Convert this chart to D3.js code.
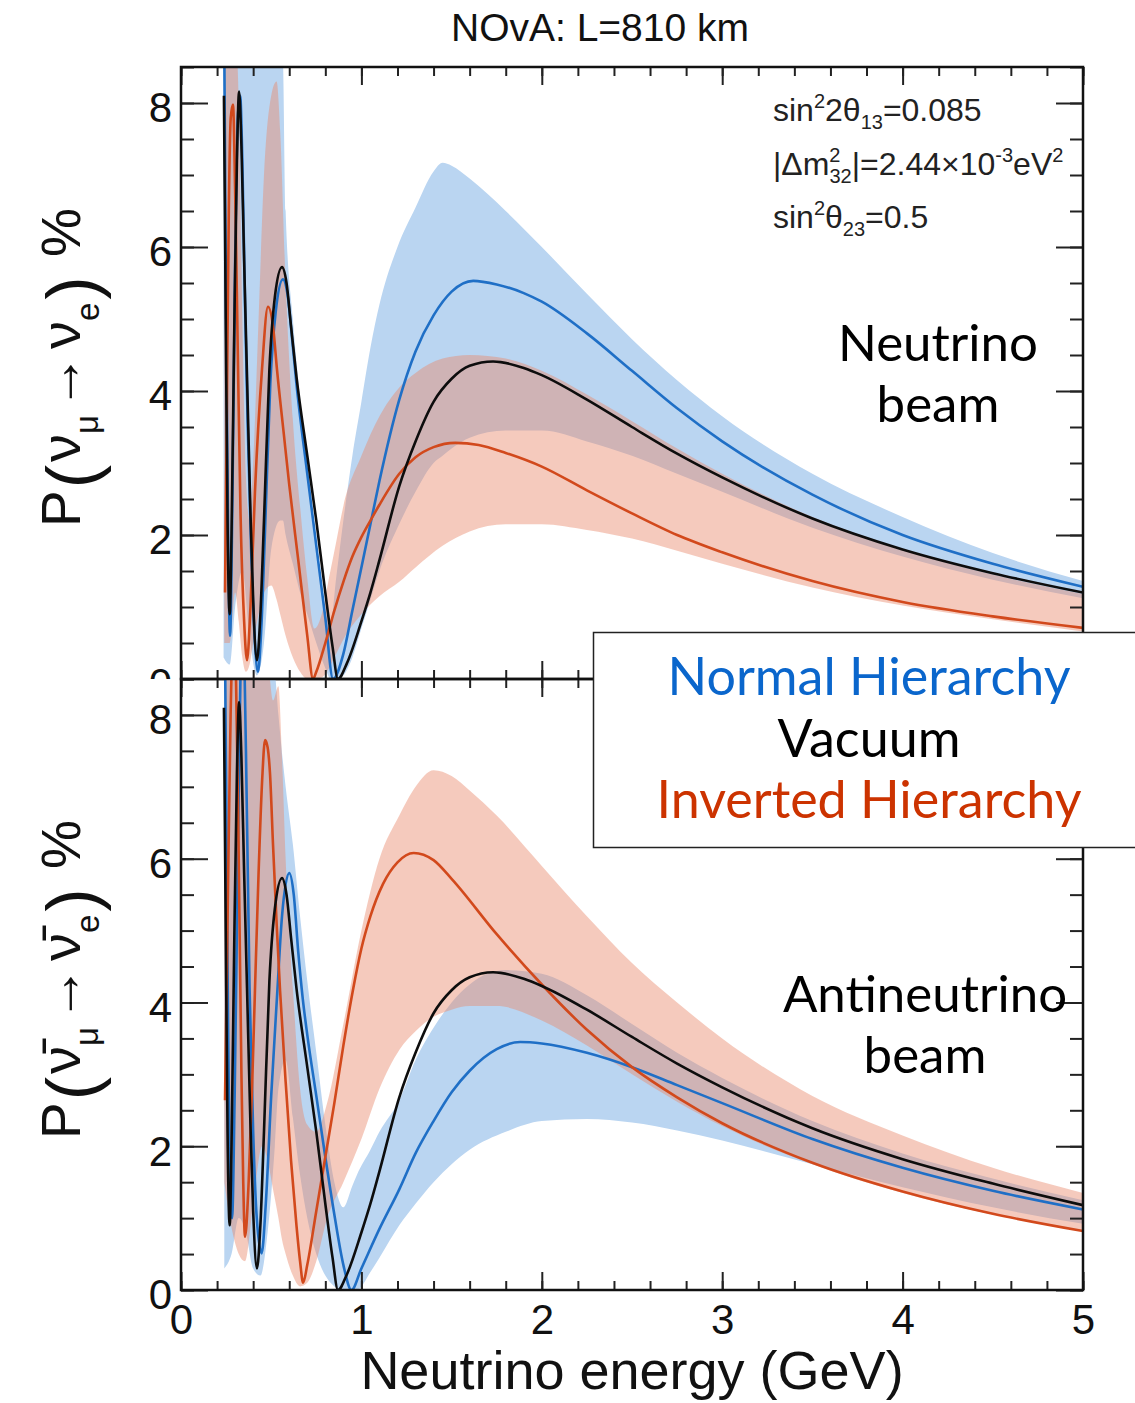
<!DOCTYPE html>
<html><head><meta charset="utf-8">
<script src="https://cdn.jsdelivr.net/npm/d3@7"></script>
<style>body{margin:0;background:#fff}</style>
</head><body>
<svg id="c" width="1135" height="1403"></svg>
<script>
// ---------------- DATA ----------------
// x: neutrino energy (GeV), y: appearance probability (%)
const xTickValues = [0, 1, 2, 3, 4, 5];
const yTickValues = [0, 2, 4, 6, 8];
const legendLabels = ["Normal Hierarchy", "Vacuum", "Inverted Hierarchy"];

// Neutrino beam (top panel)
const nuVac = [[0.238,8.1],[0.248,5.0],[0.258,2.2],[0.27,0.9],[0.28,2.0],[0.295,4.8],[0.31,7.2],[0.322,8.16],[0.335,7.4],[0.35,5.8],[0.366,4.2],[0.385,2.3],[0.40,1.1],[0.421,0.26],[0.44,0.9],[0.46,2.2],[0.49,4.3],[0.52,5.3],[0.56,5.72],[0.585,5.5],[0.61,4.9],[0.64,4.2],[0.70,3.1],[0.75,2.2],[0.80,1.2],[0.84,0.45],[0.87,0],[0.92,0.22],[1.0,0.8],[1.05,1.2],[1.1,1.65],[1.21,2.68],[1.3,3.3],[1.4,3.85],[1.5,4.17],[1.6,4.35],[1.73,4.41],[1.9,4.32],[2.0,4.22],[2.25,3.88],[2.5,3.5],[2.75,3.13],[3.0,2.8],[3.5,2.23],[4.0,1.8],[4.5,1.47],[5.0,1.2]];
const nuNH = [[0.238,9.5],[0.25,5.0],[0.262,1.8],[0.272,0.6],[0.285,2.5],[0.30,5.8],[0.315,7.8],[0.328,8.1],[0.34,7.2],[0.355,5.2],[0.37,3.5],[0.39,1.7],[0.41,0.5],[0.427,0.1],[0.445,0.7],[0.465,2.0],[0.495,4.1],[0.525,5.1],[0.565,5.55],[0.59,5.35],[0.615,4.75],[0.64,4.1],[0.70,2.85],[0.75,1.85],[0.80,0.85],[0.843,0],[0.9,0.35],[0.95,0.95],[1.0,1.55],[1.05,2.15],[1.1,2.75],[1.21,3.88],[1.3,4.55],[1.4,5.05],[1.5,5.38],[1.62,5.53],[1.75,5.48],[1.9,5.36],[2.0,5.24],[2.25,4.8],[2.5,4.28],[2.75,3.76],[3.0,3.3],[3.5,2.56],[4.0,2.0],[4.5,1.6],[5.0,1.28]];
const nuIH = [[0.244,1.2],[0.255,4.0],[0.265,6.5],[0.276,7.8],[0.288,7.98],[0.30,6.8],[0.315,4.5],[0.33,2.3],[0.35,0.8],[0.366,0.26],[0.385,1.0],[0.41,2.6],[0.449,4.3],[0.482,5.17],[0.51,4.9],[0.532,4.3],[0.57,3.4],[0.6,2.7],[0.65,1.65],[0.7,0.6],[0.732,0],[0.75,0.1],[0.8,0.5],[0.85,0.95],[0.9,1.35],[0.95,1.7],[1.0,1.97],[1.05,2.2],[1.1,2.42],[1.21,2.85],[1.3,3.08],[1.4,3.22],[1.52,3.28],[1.65,3.25],[1.8,3.14],[2.0,2.95],[2.25,2.62],[2.5,2.3],[2.75,2.0],[3.0,1.76],[3.5,1.36],[4.0,1.07],[4.5,0.87],[5.0,0.71]];
// bands: [E, low, high]
const nuNHBand = [[0.236,0.3,9],[0.27,0.2,9],[0.30,1.0,9],[0.34,1.5,9],[0.38,0.6,9],[0.42,0.05,9],[0.46,0.5,9],[0.50,1.8,9],[0.55,2.2,9],[0.565,2.2,8.6],[0.58,2.0,6.5],[0.62,1.6,5.0],[0.66,1.2,3.9],[0.70,0.9,3.0],[0.75,0.5,1.9],[0.80,0.15,0.9],[0.83,0,0.8],[0.86,0,1.4],[0.9,0.05,2.2],[0.95,0.3,3.1],[1.0,0.7,3.85],[1.05,1.1,4.6],[1.1,1.5,5.2],[1.2,2.1,6.0],[1.3,2.6,6.55],[1.4,3.0,7.05],[1.45,3.1,7.17],[1.5,3.2,7.13],[1.6,3.35,6.95],[1.8,3.45,6.5],[2.0,3.45,6.0],[2.25,3.3,5.35],[2.5,3.1,4.72],[2.75,2.85,4.15],[3.0,2.6,3.65],[3.5,2.1,2.85],[4.0,1.7,2.25],[4.5,1.38,1.75],[5.0,1.12,1.36]];
const nuIHBand = [[0.24,0.5,9],[0.27,0.5,9],[0.30,1.2,9],[0.32,0.8,8.0],[0.34,0.3,5.0],[0.36,0.1,2.8],[0.38,0.2,2.2],[0.40,0.5,3.0],[0.43,0.9,5.0],[0.46,1.2,7.0],[0.50,1.3,8.1],[0.53,1.1,8.3],[0.55,0.9,7.6],[0.58,0.6,5.5],[0.62,0.3,3.6],[0.66,0.1,2.4],[0.70,0,1.4],[0.74,0,0.7],[0.78,0.02,0.9],[0.82,0.15,1.4],[0.86,0.35,1.9],[0.9,0.55,2.4],[1.0,0.9,3.1],[1.1,1.15,3.65],[1.21,1.35,4.05],[1.3,1.55,4.25],[1.45,1.85,4.45],[1.6,2.05,4.5],[1.8,2.15,4.45],[2.0,2.15,4.28],[2.25,2.07,3.95],[2.5,1.95,3.58],[2.75,1.78,3.2],[3.0,1.6,2.85],[3.5,1.27,2.25],[4.0,1.02,1.8],[4.5,0.83,1.45],[5.0,0.66,1.18]];

// Antineutrino beam (bottom panel)
const nubarVac = [[0.238,8.1],[0.248,5.0],[0.258,2.2],[0.27,0.9],[0.28,2.0],[0.295,4.8],[0.31,7.2],[0.322,8.18],[0.335,7.4],[0.35,5.8],[0.366,4.2],[0.385,2.3],[0.40,1.1],[0.421,0.3],[0.44,0.9],[0.46,2.2],[0.49,4.3],[0.52,5.3],[0.56,5.73],[0.585,5.5],[0.61,4.9],[0.64,4.2],[0.70,3.1],[0.75,2.2],[0.80,1.2],[0.84,0.45],[0.87,0],[0.92,0.22],[1.0,0.8],[1.05,1.2],[1.1,1.65],[1.21,2.68],[1.3,3.3],[1.4,3.85],[1.5,4.17],[1.6,4.35],[1.73,4.42],[1.9,4.33],[2.0,4.23],[2.25,3.9],[2.5,3.52],[2.75,3.15],[3.0,2.82],[3.5,2.25],[4.0,1.82],[4.5,1.48],[5.0,1.18]];
const nubarNH = [[0.245,8.6],[0.258,4.5],[0.27,1.6],[0.283,1.0],[0.298,2.8],[0.315,6.0],[0.33,8.6],[0.345,9.2],[0.36,7.5],[0.38,4.2],[0.40,2.2],[0.42,1.0],[0.447,0.51],[0.47,1.2],[0.50,2.7],[0.532,4.07],[0.56,5.2],[0.60,5.8],[0.625,5.5],[0.65,4.7],[0.675,4.05],[0.70,3.55],[0.75,2.7],[0.80,1.85],[0.85,1.05],[0.90,0.35],[0.945,0],[1.0,0.3],[1.1,0.85],[1.21,1.4],[1.3,1.9],[1.4,2.35],[1.5,2.75],[1.6,3.05],[1.75,3.35],[1.88,3.45],[2.0,3.43],[2.25,3.3],[2.5,3.1],[2.75,2.85],[3.0,2.6],[3.5,2.1],[4.0,1.7],[4.5,1.38],[5.0,1.12]];
const nubarIH = [[0.244,2.64],[0.26,5.5],[0.275,8.0],[0.29,9.2],[0.305,8.5],[0.32,6.0],[0.335,3.0],[0.345,1.5],[0.355,0.74],[0.375,1.5],[0.395,2.9],[0.41,4.17],[0.43,5.8],[0.45,7.1],[0.466,7.65],[0.48,7.55],[0.493,7.2],[0.51,6.2],[0.53,5.1],[0.549,4.17],[0.58,2.9],[0.61,1.8],[0.64,0.9],[0.66,0.4],[0.677,0.1],[0.7,0.35],[0.75,1.1],[0.8,1.85],[0.85,2.6],[0.9,3.4],[0.953,4.17],[1.0,4.75],[1.05,5.2],[1.12,5.65],[1.2,5.95],[1.29,6.08],[1.4,5.98],[1.5,5.72],[1.75,4.95],[2.0,4.25],[2.25,3.62],[2.5,3.1],[2.75,2.68],[3.0,2.32],[3.5,1.77],[4.0,1.37],[4.5,1.06],[5.0,0.82]];
const nubarNHBand = [[0.24,0.3,9],[0.28,0.5,9],[0.32,1.0,9],[0.36,0.8,9],[0.40,0.3,9],[0.44,0.2,9],[0.48,0.8,9],[0.52,2.0,8.6],[0.54,2.8,8.0],[0.58,3.2,7.0],[0.62,2.4,6.2],[0.66,1.6,5.2],[0.70,1.0,4.3],[0.75,0.5,3.3],[0.80,0.2,2.3],[0.85,0.05,1.5],[0.90,0,1.15],[0.95,0,1.45],[0.975,0,1.6],[1.05,0.25,1.95],[1.1,0.45,2.2],[1.21,0.9,2.64],[1.3,1.2,3.2],[1.4,1.5,3.65],[1.5,1.75,4.0],[1.6,1.95,4.25],[1.8,2.2,4.45],[2.0,2.35,4.4],[2.25,2.38,4.1],[2.5,2.33,3.7],[2.75,2.22,3.3],[3.0,2.08,2.95],[3.5,1.75,2.35],[4.0,1.43,1.9],[4.5,1.15,1.55],[5.0,0.92,1.25]];
const nubarIHBand = [[0.24,1.5,8.0],[0.27,1.0,9],[0.32,0.5,9],[0.355,0.4,9],[0.40,1.2,9],[0.45,2.0,9],[0.48,1.8,8.8],[0.51,1.4,8.2],[0.54,1.0,8.4],[0.56,0.7,7.4],[0.58,0.5,6.0],[0.62,0.2,4.2],[0.66,0.05,2.8],[0.70,0.1,2.3],[0.75,0.4,2.2],[0.81,1.0,2.6],[0.9,1.5,3.7],[1.0,2.1,5.0],[1.1,2.8,6.0],[1.21,3.34,6.6],[1.3,3.6,7.0],[1.4,3.8,7.23],[1.5,3.9,7.15],[1.6,3.95,6.95],[1.75,3.95,6.6],[2.0,3.75,5.9],[2.25,3.4,5.2],[2.5,3.0,4.55],[2.75,2.62,4.0],[3.0,2.28,3.5],[3.5,1.75,2.7],[4.0,1.35,2.15],[4.5,1.05,1.7],[5.0,0.82,1.35]];

// ---------------- DRAWING ----------------
const svg = d3.select('#c');
const FONT = "'Liberation Sans', Arial, Helvetica, sans-serif";
const LATO = "Lato, 'Open Sans', sans-serif";
const colNH = '#1f6fc6', colIH = '#d2491c', colVac = '#0d0d0d';
const bandNH = '#bad5f1', bandIH = 'rgba(233,138,108,0.45)';

const x = d3.scaleLinear().domain([0, 5]).range([181, 1083]);
const yTop = d3.scaleLinear().domain([0, 8.5]).range([679, 67]);
const yBot = d3.scaleLinear().domain([0, 8.5]).range([1290, 679]);

svg.append('rect').attr('width', 1135).attr('height', 1403).attr('fill', '#fff');
// clip for the top panel's tick labels (the bottom pad hides the lower part of its "0");
// expressed in the label group's local coordinates (group is shifted to x = 181)
svg.append('clipPath').attr('id', 'topLabelClip').append('rect')
  .attr('x', -400).attr('y', 0).attr('width', 2000).attr('height', 679);

function richText(sel, parts) {
  let prev = 0;
  parts.forEach(p => {
    const t = sel.append('tspan').attr('font-size', p[1]).attr('dy', p[2] - prev).text(p[0]);
    if (p[3] !== undefined) t.attr('dx', p[3]);
    prev = p[2];
  });
}

function drawPanel(y, id, bands, lines, showXLabels, labelClip) {
  const g = svg.append('g');
  const [yb, yt] = y.range();
  g.append('clipPath').attr('id', id).append('rect')
    .attr('x', x(0)).attr('y', yt).attr('width', x(5) - x(0)).attr('height', yb - yt);
  const plot = g.append('g').attr('clip-path', `url(#${id})`);
  const area = d3.area().x(d => x(d[0])).y0(d => y(d[1])).y1(d => y(d[2])).curve(d3.curveMonotoneX);
  const line = d3.line().x(d => x(d[0])).y(d => y(d[1])).curve(d3.curveMonotoneX);
  bands.forEach(b => plot.append('path').attr('d', area(b.data)).attr('fill', b.fill));
  lines.forEach(l => plot.append('path').attr('d', line(l.data)).attr('fill', 'none')
    .attr('stroke', l.color).attr('stroke-width', 2.6).attr('stroke-linejoin', 'round'));

  const minorX = d3.range(0, 5.001, 0.2);
  const minorY = d3.range(0, 8.501, 0.5);
  const style = a => a.attr('font-family', FONT).attr('font-size', 42)
    .call(s => s.select('.domain').remove())
    .call(s => s.selectAll('line').attr('stroke', '#222').attr('stroke-width', 2));
  // bottom
  g.append('g').attr('transform', `translate(0,${yb})`)
    .call(d3.axisBottom(x).tickValues(minorX).tickSizeInner(-9).tickSizeOuter(0).tickFormat(''))
    .call(style);
  const bx = g.append('g').attr('transform', `translate(0,${yb})`)
    .call(d3.axisBottom(x).tickValues(xTickValues).tickSizeInner(-18).tickSizeOuter(0).tickPadding(14)
      .tickFormat(showXLabels ? d3.format('d') : ''))
    .call(style);
  bx.selectAll('text').attr('fill', '#111');
  // top
  g.append('g').attr('transform', `translate(0,${yt})`)
    .call(d3.axisTop(x).tickValues(minorX).tickSizeInner(-9).tickSizeOuter(0).tickFormat('')).call(style);
  g.append('g').attr('transform', `translate(0,${yt})`)
    .call(d3.axisTop(x).tickValues(xTickValues).tickSizeInner(-18).tickSizeOuter(0).tickFormat('')).call(style);
  // left
  g.append('g').attr('transform', `translate(${x(0)},0)`)
    .call(d3.axisLeft(y).tickValues(minorY).tickSizeInner(-13).tickSizeOuter(0).tickFormat('')).call(style);
  const ly = g.append('g').attr('transform', `translate(${x(0)},0)`)
    .call(d3.axisLeft(y).tickValues(yTickValues).tickSizeInner(-27).tickSizeOuter(0).tickPadding(9).tickFormat(d3.format('d')))
    .call(style);
  ly.selectAll('text').attr('dy', '0.45em').attr('fill', '#111');
  if (labelClip) ly.attr('clip-path', `url(#${labelClip})`);
  // right
  g.append('g').attr('transform', `translate(${x(5)},0)`)
    .call(d3.axisRight(y).tickValues(minorY).tickSizeInner(-13).tickSizeOuter(0).tickFormat('')).call(style);
  g.append('g').attr('transform', `translate(${x(5)},0)`)
    .call(d3.axisRight(y).tickValues(yTickValues).tickSizeInner(-27).tickSizeOuter(0).tickFormat('')).call(style);
  // frame
  g.append('rect').attr('x', x(0)).attr('y', yt).attr('width', x(5) - x(0)).attr('height', yb - yt)
    .attr('fill', 'none').attr('stroke', '#111').attr('stroke-width', 2.5);
  return g;
}

// Title
svg.append('text').attr('x', 600).attr('y', 41).attr('text-anchor', 'middle')
  .attr('font-family', FONT).attr('font-size', 39).attr('fill', '#111').text('NOvA: L=810 km');

// Top panel
drawPanel(yTop, 'clipTop',
  [{data: nuNHBand, fill: bandNH}, {data: nuIHBand, fill: bandIH}],
  [{data: nuNH, color: colNH}, {data: nuIH, color: colIH}, {data: nuVac, color: colVac}], false, 'topLabelClip');

// Bottom panel
drawPanel(yBot, 'clipBot',
  [{data: nubarNHBand, fill: bandNH}, {data: nubarIHBand, fill: bandIH}],
  [{data: nubarNH, color: colNH}, {data: nubarIH, color: colIH}, {data: nubarVac, color: colVac}], true, null);

// X axis title
svg.append('text').attr('x', 632).attr('y', 1389).attr('text-anchor', 'middle')
  .attr('font-family', FONT).attr('font-size', 54).attr('fill', '#111').text('Neutrino energy (GeV)');

// Y axis titles
function yTitle(cx, cy, bar) {
  const nu = bar ? 'ν\u0304' : 'ν';
  const t = svg.append('text').attr('transform', `translate(${cx},${cy}) rotate(-90)`)
    .attr('font-family', FONT).attr('fill', '#111');
  richText(t, [['P', 55, 0], ['(', 70, 16, 2], [nu, 56, 0, 3], ['μ', 33, 18], ['→', 56, 0, 5], [nu, 56, 0, 5], ['e', 33, 19], [')', 70, 16, 3], [' %', 55, 0, 4]]);
}
yTitle(80, 527, false);
yTitle(80, 1139, true);

// Parameter text
const info = svg.append('g').attr('font-family', FONT).attr('fill', '#222');
richText(info.append('text').attr('x', 773).attr('y', 121),
  [['sin', 32, 0], ['2', 20, -13], ['2θ', 32, 0], ['13', 20, 8], ['=0.085', 32, 0]]);
richText(info.append('text').attr('x', 773).attr('y', 175),
  [['|Δm', 32, 0], ['2', 20, -13], ['32', 20, 8, -11], ['|=2.44×10', 32, 0], ['-3', 20, -13], ['eV', 32, 0], ['2', 20, -13]]);
richText(info.append('text').attr('x', 773).attr('y', 228),
  [['sin', 32, 0], ['2', 20, -13], ['θ', 32, 0], ['23', 20, 8], ['=0.5', 32, 0]]);

// Beam labels
const lab = svg.append('g').attr('font-family', LATO).attr('font-size', 51).attr('fill', '#000').attr('text-anchor', 'middle');
lab.append('text').attr('x', 938).attr('y', 361).text('Neutrino');
lab.append('text').attr('x', 938).attr('y', 422).text('beam');
lab.append('text').attr('x', 925).attr('y', 1012).text('Antineutrino');
lab.append('text').attr('x', 925).attr('y', 1073).text('beam');

// Legend box
svg.append('rect').attr('x', 593.5).attr('y', 632.5).attr('width', 560).attr('height', 215)
  .attr('fill', '#fff').attr('stroke', '#222').attr('stroke-width', 1.5);
const legColors = ['#0a66cc', '#000', '#cc3300'];
const legY = [695, 757, 818];
legendLabels.forEach((s, i) => {
  svg.append('text').attr('x', 869).attr('y', legY[i]).attr('text-anchor', 'middle')
    .attr('font-family', LATO).attr('font-size', 52).attr('fill', legColors[i]).text(s);
});
</script>
</body></html>
